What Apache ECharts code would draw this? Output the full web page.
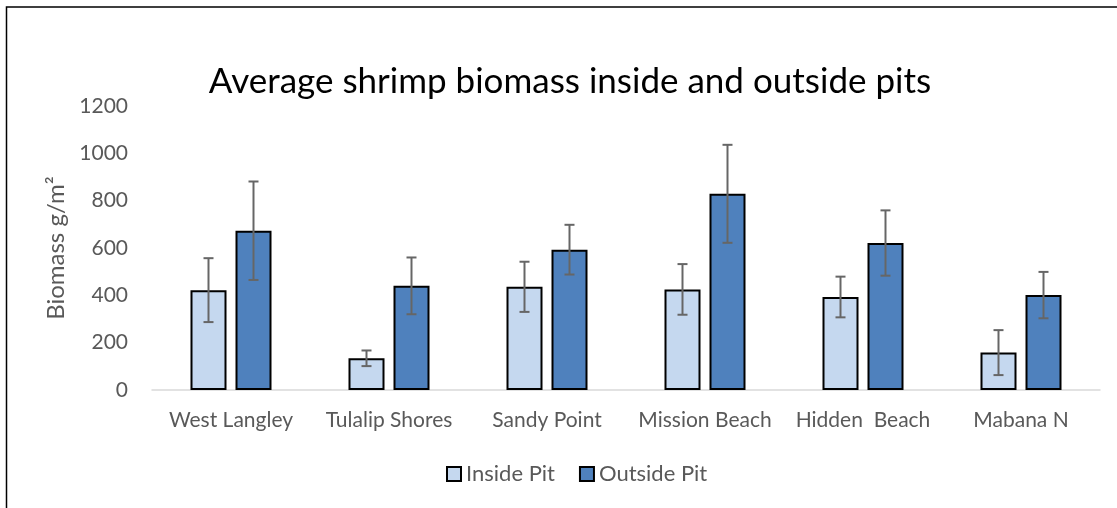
<!DOCTYPE html>
<html>
<head>
<meta charset="utf-8">
<script src="https://cdn.jsdelivr.net/npm/echarts@6/dist/echarts.min.js"></script>
<style>
  html, body { margin: 0; padding: 0; background: #fff; }
  #main { width: 1117px; height: 508px; }
</style>
</head>
<body>
<div id="main"></div>
<script>
// sites
var sites = ['West Langley', 'Tulalip Shores', 'Sandy Point', 'Mission Beach', 'Hidden  Beach', 'Mabana N']
// mean biomass g/m2
var insidePit = [422, 134, 436, 425, 393, 158]
var outsidePit = [673, 440, 593, 829, 621, 401]
// error (+/-)
var insideErr = [135, 33, 106, 107, 86, 95]
var outsideErr = [208, 120, 105, 207, 138, 98]

var yTicks = [0, 200, 400, 600, 800, 1000, 1200]

var font = 'Lato, "Open Sans", sans-serif'
var barW = 36
var shift = 22.5

function errSeries(vals, errs, dx) {
    return {
        type: 'custom',
        silent: true,
        z: 5,
        data: vals.map(function (v, i) { return [i, v - errs[i], v + errs[i]] }),
        renderItem: function (params, api) {
            var lo = api.coord([api.value(0), api.value(1)])
            var hi = api.coord([api.value(0), api.value(2)])
            var x = lo[0] + dx
            var cap = 5
            var st = { stroke: '#666', lineWidth: 2 }
            return {
                type: 'group',
                children: [
                    { type: 'line', shape: { x1: x, y1: lo[1], x2: x, y2: hi[1] }, style: st },
                    { type: 'line', shape: { x1: x - cap, y1: lo[1], x2: x + cap, y2: lo[1] }, style: st },
                    { type: 'line', shape: { x1: x - cap, y1: hi[1], x2: x + cap, y2: hi[1] }, style: st }
                ]
            }
        }
    }
}

var myChart = echarts.init(document.getElementById('main'))
myChart.setOption({
    animation: false,
    textStyle: { fontFamily: font },
    title: {
        text: 'Average shrimp biomass inside and outside pits',
        left: 565,
        top: 59,
        textAlign: 'center',
        textStyle: { fontSize: 35, fontWeight: 'normal', color: '#000', fontFamily: font }
    },
    legend: {
        data: ['Inside Pit', 'Outside Pit'],
        bottom: 18,
        left: 441,
        itemWidth: 14,
        itemHeight: 14,
        itemGap: 24,
        icon: 'rect',
        textStyle: { fontSize: 22, color: '#595959', fontFamily: font }
    },
    graphic: [{
        type: 'rect',
        shape: { x: 6.5, y: 7, width: 1300, height: 700 },
        style: { fill: 'none', stroke: '#000', lineWidth: 1.5 }
    }],
    grid: { left: 152, right: 17, top: 106, bottom: 118 },
    xAxis: {
        type: 'category',
        data: sites,
        axisLine: { lineStyle: { color: '#d9d9d9', width: 1.5 } },
        axisTick: { show: false },
        axisLabel: { fontSize: 21, color: '#595959', margin: 20, interval: 0 }
    },
    yAxis: {
        type: 'value',
        min: yTicks[0],
        max: yTicks[yTicks.length - 1],
        interval: 200,
        name: 'Biomass g/m\u00b2',
        nameLocation: 'middle',
        nameGap: 82,
        nameTextStyle: { fontSize: 24, color: '#595959' },
        axisLine: { show: false },
        axisTick: { show: false },
        splitLine: { show: false },
        axisLabel: { fontSize: 21, color: '#595959', margin: 24, formatter: function (v) { return String(v) } }
    },
    series: [
        {
            name: 'Inside Pit',
            type: 'bar',
            data: insidePit,
            barWidth: barW,
            barGap: '25%',
            itemStyle: { color: '#c5d8ef', borderColor: '#000', borderWidth: 2 }
        },
        {
            name: 'Outside Pit',
            type: 'bar',
            data: outsidePit,
            barWidth: barW,
            barGap: '25%',
            itemStyle: { color: '#4f81bd', borderColor: '#000', borderWidth: 2 }
        },
        errSeries(insidePit, insideErr, -shift),
        errSeries(outsidePit, outsideErr, shift)
    ]
})
</script>
</body>
</html>
